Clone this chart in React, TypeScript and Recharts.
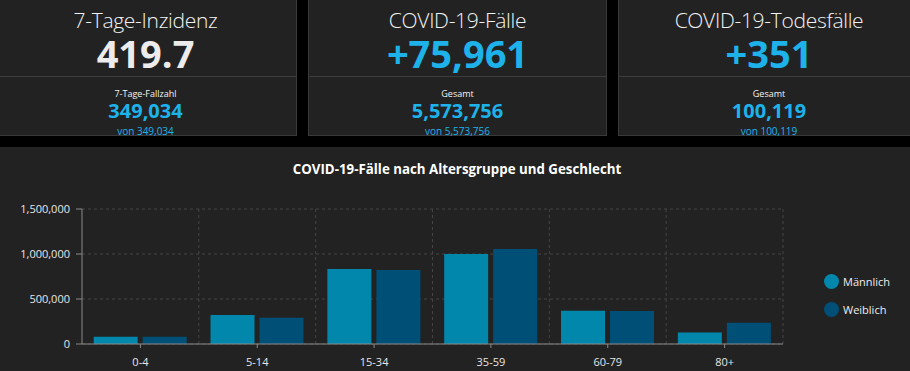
import React from "react";
import { Bar, BarChart, CartesianGrid, Legend, XAxis, YAxis } from "recharts";

const ageGroups = ["0-4", "5-14", "15-34", "35-59", "60-79", "80+"];
const maleCases = [81000, 322000, 833000, 1000000, 370000, 128000];
const femaleCases = [80000, 292000, 822000, 1055000, 368000, 235000];
const yTicks = [0, 500000, 1000000, 1500000];

const seriesNames = ["Männlich", "Weiblich"];
const MALE = "#0087ab";
const FEMALE = "#004f76";
const BLUE = "#1db3ea";
const FONT = "'Open Sans', 'Noto Sans', sans-serif";

const tiles = [
  { title: "7-Tage-Inzidenz", value: "419.7", sub: "7-Tage-Fallzahl", total: "349,034", von: "von 349,034", valueColor: "#ececec", left: -6, width: 303 },
  { title: "COVID-19-Fälle", value: "+75,961", sub: "Gesamt", total: "5,573,756", von: "von 5,573,756", valueColor: BLUE, left: 308, width: 299 },
  { title: "COVID-19-Todesfälle", value: "+351", sub: "Gesamt", total: "100,119", von: "von 100,119", valueColor: BLUE, left: 618, width: 302 },
];

const data = ageGroups.map((g, i) => ({ group: g, male: maleCases[i], female: femaleCases[i] }));

const fmt = (v: number) => v.toLocaleString("en-US");

function Tile({ t }: { t: (typeof tiles)[number] }) {
  const line = (top: number, size: number, color: string, weight: number, text: string, spacing = 0) => (
    <div
      style={{
        position: "absolute",
        left: 0,
        right: 0,
        top,
        fontSize: size,
        lineHeight: `${size}px`,
        color,
        fontWeight: weight,
        letterSpacing: spacing,
        textAlign: "center",
        whiteSpace: "nowrap",
      }}
    >
      {text}
    </div>
  );
  return (
    <div
      style={{
        position: "absolute",
        left: t.left,
        top: -2,
        width: t.width,
        height: 138,
        boxSizing: "border-box",
        background: "#222222",
        border: "1px solid #3a3a3a",
      }}
    >
      <div style={{ position: "absolute", left: 0, right: 0, top: 77, height: 1, background: "#3c3c3c" }} />
      {line(11.3, 21, "#f2f2f2", 300, t.title, -0.3)}
      {line(35.4, 38, t.valueColor, 700, t.value)}
      {line(89.6, 9, "#f2f2f2", 400, t.sub)}
      {line(102, 20, BLUE, 700, t.total)}
      {line(126.5, 10, BLUE, 400, t.von)}
    </div>
  );
}

const LegendContent = () => (
  <div style={{ fontFamily: FONT }}>
    {[MALE, FEMALE].map((c, i) => (
      <div key={i} style={{ display: "flex", alignItems: "center", height: 28 }}>
        <span style={{ width: 15, height: 15, borderRadius: "50%", background: c, display: "inline-block" }} />
        <span style={{ marginLeft: 4, fontSize: 11, color: "#eeeeee" }}>{seriesNames[i]}</span>
      </div>
    ))}
  </div>
);

export default function App() {
  return (
    <div
      style={{
        position: "fixed",
        left: 0,
        top: 0,
        width: 910,
        height: 371,
        overflow: "hidden",
        background: "#000",
        fontFamily: FONT,
      }}
    >
      {tiles.map((t) => (
        <Tile key={t.title} t={t} />
      ))}

      <div style={{ position: "absolute", left: -2, top: 147, width: 914, height: 230, background: "#222222" }} />

      <div
        style={{
          position: "absolute",
          left: 0,
          width: 914,
          top: 163,
          fontSize: 13.3,
          lineHeight: "13px",
          fontWeight: 700,
          color: "#ffffff",
          textAlign: "center",
        }}
      >
        COVID-19-Fälle nach Altersgruppe und Geschlecht
      </div>

      <div style={{ position: "absolute", left: 0, top: 147 }}>
        <BarChart
          width={910}
          height={224}
          data={data}
          margin={{ top: 62, right: 127, left: 0, bottom: 0 }}
          barCategoryGap="10%"
          barGap={5}
        >
          <CartesianGrid
            stroke="#444"
            strokeDasharray="3 3"
            verticalCoordinatesGenerator={({ offset }: any) =>
              ageGroups.map((_, i) => offset.left + ((i + 1) * offset.width) / ageGroups.length)
            }
          />
          <XAxis
            dataKey="group"
            height={27}
            stroke="#8a8a8a"
            tickSize={4}
            tickMargin={10}
            tick={{ fontSize: 11, fill: "#e6e6e6", fontFamily: FONT }}
          />
          <YAxis
            width={82}
            domain={[0, 1500000]}
            ticks={yTicks}
            tickFormatter={fmt}
            stroke="#8a8a8a"
            tickSize={6}
            tickMargin={6}
            tick={{ fontSize: 11, fill: "#e6e6e6", fontFamily: FONT }}
          />
          <Legend
            layout="horizontal"
            verticalAlign="middle"
            align="center"
            content={<LegendContent />}
            wrapperStyle={{ left: 824, top: 120, width: 86 }}
          />
          <Bar dataKey="male" name={seriesNames[0]} fill={MALE} isAnimationActive={false} />
          <Bar dataKey="female" name={seriesNames[1]} fill={FEMALE} isAnimationActive={false} />
        </BarChart>
      </div>
    </div>
  );
}
